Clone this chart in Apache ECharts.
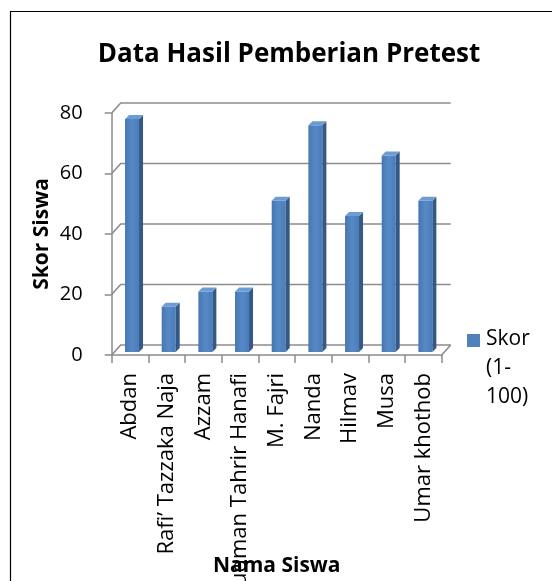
<!DOCTYPE html>
<html><head><meta charset="utf-8">
<script src="https://cdn.jsdelivr.net/npm/echarts@6/dist/echarts.min.js"></script>
<style>html,body{margin:0;padding:0;background:#fff}#c{width:552px;height:581px}</style>
</head><body><div id="c"></div>
<script>
const titleText = 'Data Hasil Pemberian Pretest';
const categories = ['Abdan', 'Rafi\u2019 Tazzaka Naja', 'Azzam', 'Luqman Tahrir Hanafi', 'M. Fajri', 'Nanda', 'Hilmav', 'Musa', 'Umar khothob'];
const scores = [77, 15, 20, 20, 50, 75, 45, 65, 50];
const yTicks = [0, 20, 40, 60, 80];
const seriesName = 'Skor (1-100)';
const legendLines = ['Skor', '(1-', '100)'];
const yName = 'Skor Siswa';
const xName = 'Nama Siswa';

const FONT = 'Open Sans';
const DX = 9, DY = 10;
const chart = echarts.init(document.getElementById('c'));

function gridItem(params, api) {
  const v = api.value(0);
  const n = categories.length;
  const bw = api.size([1, 0])[0];
  const left = api.coord([0, v])[0] - bw / 2;
  const right = api.coord([n - 1, v])[0] + bw / 2;
  const y = api.coord([0, v])[1];
  const children = [{
    type: 'polyline',
    shape: { points: [[left, y], [left + DX, y - DY], [right + DX, y - DY]] },
    style: { stroke: '#8c8c8c', lineWidth: 1.6, fill: null }
  }];
  if (v === 0) {
    children.push({
      type: 'line',
      shape: { x1: right, y1: y, x2: right + DX, y2: y - DY },
      style: { stroke: '#8c8c8c', lineWidth: 1.6 }
    });
  }
  return { type: 'group', children };
}

function barItem(params, api) {
  const i = api.value(0);
  const v = api.value(1);
  const base = api.coord([i, 0]);
  const top = api.coord([i, v]);
  const c = base[0];
  const sh = 3;
  const x0 = c - 5, x1 = c + 9;
  const yb = base[1] - sh, yt = top[1] - sh;
  const d = 4;
  return {
    type: 'group',
    children: [
      { type: 'rect', shape: { x: x0, y: yt, width: x1 - x0, height: yb - yt },
        style: { fill: new echarts.graphic.LinearGradient(0, 0, 1, 0, [
          { offset: 0, color: '#4677b2' }, { offset: 0.5, color: '#5689c6' }, { offset: 1, color: '#4a7cb8' }]) } },
      { type: 'polygon', shape: { points: [[x1, yb], [x1 + d, yb - d], [x1 + d, yt - d], [x1, yt]] },
        style: { fill: '#345987' } },
      { type: 'polygon', shape: { points: [[x0, yt], [x0 + d, yt - d], [x1 + d, yt - d], [x1, yt]] },
        style: { fill: '#6d9bd3' } }
    ]
  };
}

chart.setOption({
  animation: false,
  backgroundColor: '#fff',
  title: {
    text: titleText, left: 284, textAlign: 'center', top: 37,
    textStyle: { fontFamily: FONT, fontWeight: 'bold', fontSize: 26, color: '#000' }
  },
  grid: { left: 111.7, right: 110.3, top: 113, bottom: 226, containLabel: false, outerBoundsMode: 'none' },
  xAxis: {
    type: 'category', data: categories,
    name: xName, nameLocation: 'middle', nameGap: 201, nameMoveOverlap: false,
    nameTextStyle: { fontFamily: FONT, fontWeight: 'bold', fontSize: 21, color: '#000' },
    axisLine: { show: true, lineStyle: { color: '#8c8c8c', width: 1.5 } },
    axisTick: { show: true, length: 8, alignWithLabel: false, lineStyle: { color: '#8c8c8c', width: 1.5 } },
    axisLabel: { rotate: 90, margin: 18, fontFamily: FONT, fontSize: 22, color: '#000' },
    splitLine: { show: false }
  },
  yAxis: {
    type: 'value', min: 0, max: 80, interval: 20,
    name: yName, nameLocation: 'middle', nameGap: 59, nameRotate: 90, nameMoveOverlap: false,
    nameTextStyle: { fontFamily: FONT, fontWeight: 'bold', fontSize: 21, color: '#000' },
    axisLine: { show: true, lineStyle: { color: '#8c8c8c', width: 1.5 } },
    axisTick: { show: true, length: 7, lineStyle: { color: '#8c8c8c', width: 1.5 } },
    axisLabel: { margin: 29, fontFamily: FONT, fontSize: 20, color: '#000' },
    splitLine: { show: false }
  },
  graphic: [
    { type: 'rect', shape: { x: 10.5, y: 11.5, width: 600, height: 600 },
      style: { fill: null, stroke: '#000', lineWidth: 1.2 }, silent: true },
    { type: 'rect', shape: { x: 467, y: 334, width: 13, height: 13 }, style: { fill: '#4f81bd' } },
    { type: 'text', left: 486, top: 325,
      style: { text: legendLines.join('\n'), fontFamily: FONT, fontSize: 21, lineHeight: 29, fill: '#000' } }
  ],
  series: [
    { type: 'custom', name: 'grid', renderItem: gridItem, data: yTicks.map(v => [v]),
      encode: { y: 0 }, silent: true, z: 1 },
    { type: 'custom', name: seriesName, renderItem: barItem,
      data: scores.map((v, i) => [i, v]), encode: { x: 0, y: 1 }, z: 2 }
  ]
});
</script></body></html>
